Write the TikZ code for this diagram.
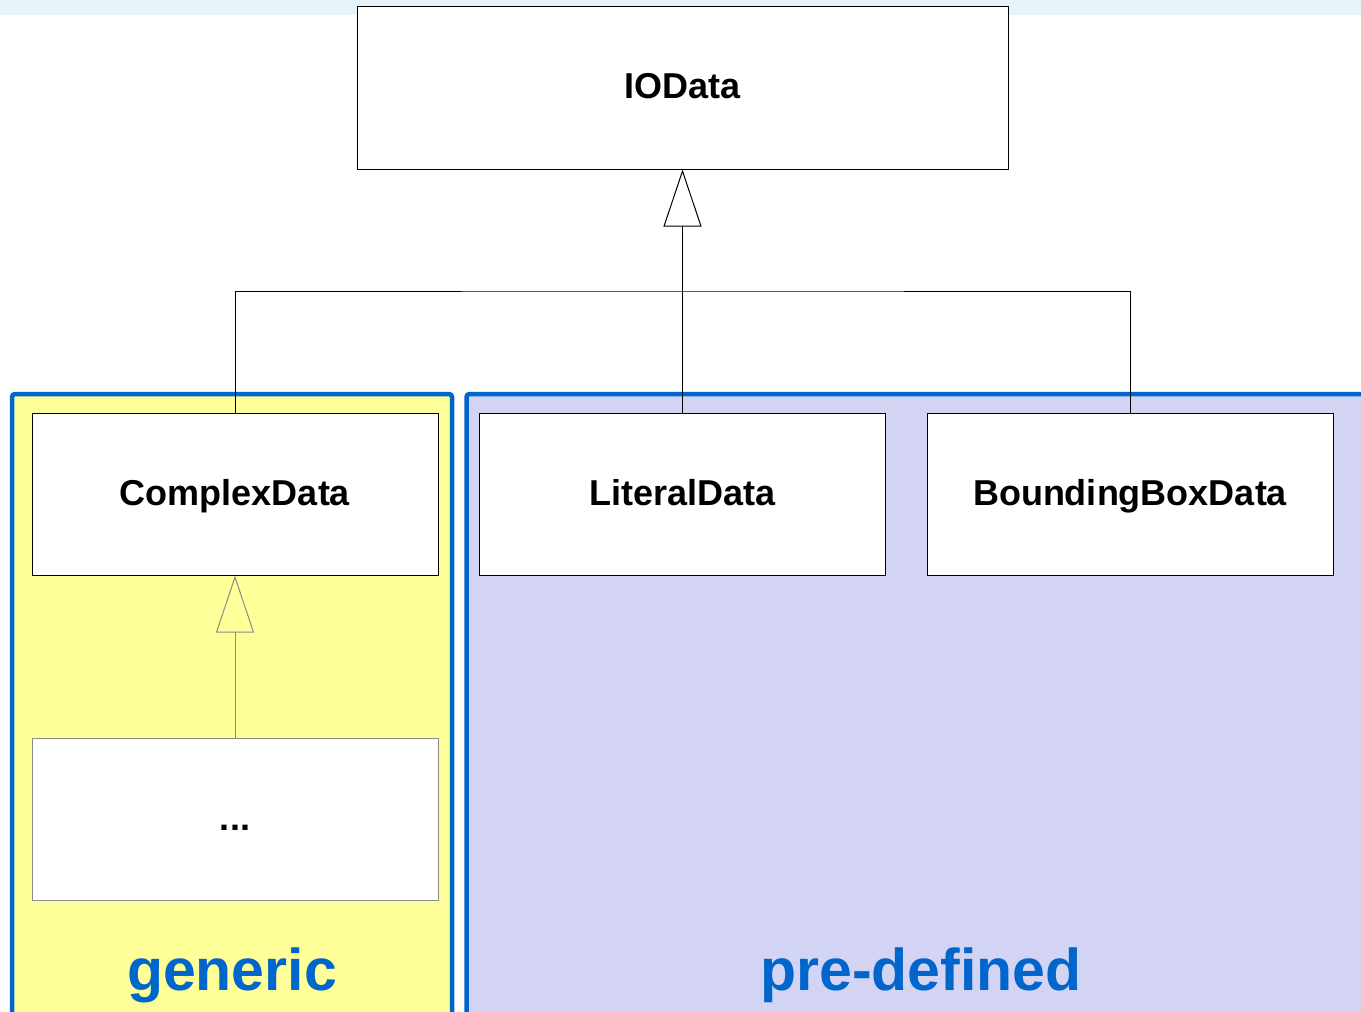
\documentclass[tikz,border=0pt]{standalone}
\usepackage{fontspec}
\setmainfont{Liberation Sans}
\usetikzlibrary{arrows.meta}
\definecolor{bandblue}{HTML}{E6F3F8}
\definecolor{genericfill}{HTML}{FFFF99}
\definecolor{predeffill}{HTML}{D3D3F3}
\definecolor{panelblue}{HTML}{0066CC}
\definecolor{softgray}{HTML}{8C8C8C}
\tikzset{
  classbox/.style={draw=black, line width=1pt, fill=white, inner sep=0pt,
    minimum width=406pt, minimum height=162pt,
    text height=22pt, text depth=0pt,
    font=\fontsize{36}{40}\selectfont\bfseries},
  plainbox/.style={classbox, draw=softgray},
  panel/.style={draw=panelblue, line width=4.5pt, rounded corners=3pt},
  panellabel/.style={text=panelblue, inner sep=0pt, anchor=base,
    font=\fontsize{59}{64}\selectfont\bfseries},
  link/.style={draw=black, line width=0.9pt},
  inherit/.style={link, -{Triangle[open, length=57pt, width=38pt, line width=1pt]}},
  softinherit/.style={inherit, draw=softgray}
}
\begin{document}
\begin{tikzpicture}[x=1pt, y=-1pt]
  \useasboundingbox (0,0) rectangle (1361,1012);
  \clip (0,0) rectangle (1361,1012);

  % header strip
  \fill[bandblue] (0,0) rectangle (1361,15);

  % grouping panels
  \draw[panel, fill=genericfill] (12,394) rectangle (452,1040);
  \draw[panel, fill=predeffill] (466.5,394) rectangle (1390,1040);
  \node[panellabel] (lblgeneric) at (232,990) {generic};
  \node[panellabel] (lblpredef) at (921,990) {pre-defined};

  % classes
  \node[classbox, minimum width=651pt, minimum height=163pt] (iodata) at (682.5,87.5) {IOData};
  \node[classbox] (complex) at (235,494) {ComplexData};
  \node[classbox] (literal) at (682.5,494) {LiteralData};
  \node[classbox] (bbox) at (1130,494) {BoundingBoxData};
  \node[plainbox] (more) at (235,819) {...};

  % generalisation tree
  \coordinate (junction) at (682.5,291);
  \draw[link] (complex.north) |- (junction) -| (bbox.north);
  \draw[link] (literal.north) -- (junction);
  \draw[inherit] (junction) -- (iodata.south);
  \draw[softinherit] (more.north) -- (complex.south);
\end{tikzpicture}
\end{document}
